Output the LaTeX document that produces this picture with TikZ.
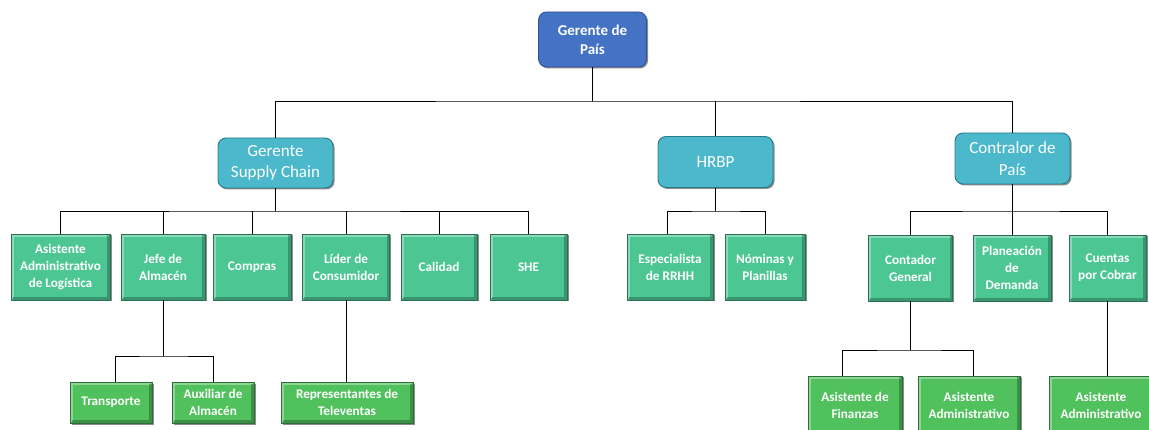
\documentclass[tikz,border=0pt]{standalone}
\usepackage{fontspec}
\setmainfont{Carlito}
\usetikzlibrary{shadows,calc}
\definecolor{topblue}{HTML}{4472C4}
\definecolor{topblueb}{HTML}{2F528F}
\definecolor{teal1}{HTML}{4BB8CC}
\definecolor{teal1b}{HTML}{2B7A88}
\definecolor{mint}{HTML}{4CC794}
\definecolor{mintb}{HTML}{2E6E55}
\definecolor{leaf}{HTML}{50C15C}
\definecolor{leafb}{HTML}{2E6E38}
\tikzset{
  boxbase/.style={text=white, align=center, inner sep=2pt,
    drop shadow={shadow xshift=1.5pt, shadow yshift=-1.5pt, fill=black, opacity=.45}},
  topbox/.style={boxbase, fill=topblue, draw=topblueb, line width=0.8pt, rounded corners=8pt,
    font=\fontsize{15}{19}\selectfont\bfseries},
  midbox/.style={boxbase, fill=teal1, draw=teal1b, line width=0.9pt, rounded corners=8pt,
    font=\fontsize{17}{21.5}\selectfont},
  bevel/.style={path picture={
      \draw[white, opacity=.35, line width=2.5pt]
        ([xshift=1.5pt,yshift=1.5pt]path picture bounding box.south west) |-
        ([xshift=-1.5pt,yshift=-1.5pt]path picture bounding box.north east);
      \draw[black, opacity=.25, line width=2.5pt]
        ([xshift=1.5pt,yshift=1.5pt]path picture bounding box.south west) -|
        ([xshift=-1.5pt,yshift=-1.5pt]path picture bounding box.north east);}},
  mintbox/.style={boxbase, bevel, fill=mint, draw=mintb, line width=0.9pt,
    font=\fontsize{13.2}{17}\selectfont\bfseries},
  leafbox/.style={boxbase, bevel, fill=leaf, draw=leafb, line width=0.9pt,
    font=\fontsize{13.2}{17}\selectfont\bfseries},
  conn/.style={draw=black, line width=0.9pt}
}
\begin{document}
\begin{tikzpicture}[x=1pt,y=1pt]
\useasboundingbox (0,0) rectangle (1149,-430);
% level 0
\node[topbox, minimum width=108, minimum height=55] (gp) at (592.5,-39.5) {Gerente de\\País};
% level 1
\node[midbox, minimum width=115, minimum height=50] (gsc) at (275.5,-163) {Gerente\\Supply Chain};
\node[midbox, minimum width=115, minimum height=51] (hr) at (715.5,-162) {HRBP};
\node[midbox, minimum width=115, minimum height=51] (cp) at (1012.5,-158.5) {Contralor de\\País};
% level 2 (mint)
\node[mintbox, minimum width=99, minimum height=66] (aal) at (60.5,-267) {Asistente\\Administrativo\\de Logística};
\node[mintbox, minimum width=84, minimum height=66] (ja) at (163,-267) {Jefe de\\Almacén};
\node[mintbox, minimum width=78, minimum height=66] (co) at (252,-267) {Compras};
\node[mintbox, minimum width=87, minimum height=66] (lc) at (346,-267) {Líder de\\Consumidor};
\node[mintbox, minimum width=76, minimum height=66] (ca) at (439,-267) {Calidad};
\node[mintbox, minimum width=77, minimum height=66] (she) at (528.5,-267) {SHE};
\node[mintbox, minimum width=86, minimum height=66] (er) at (670,-267) {Especialista\\de RRHH};
\node[mintbox, minimum width=80, minimum height=66] (np) at (765,-267) {Nóminas y\\Planillas};
\node[mintbox, minimum width=84, minimum height=66] (cg) at (910.5,-268) {Contador\\General};
\node[mintbox, minimum width=78, minimum height=66] (pd) at (1012,-268) {Planeación\\de\\Demanda};
\node[mintbox, minimum width=77, minimum height=66] (cc) at (1107.5,-268) {Cuentas\\por Cobrar};
% level 3 (leaf)
\node[leafbox, minimum width=82, minimum height=41] (tr) at (111,-402.5) {Transporte};
\node[leafbox, minimum width=82, minimum height=41] (ax) at (213,-402.5) {Auxiliar de\\Almacén};
\node[leafbox, minimum width=132, minimum height=41] (rt) at (347,-402.5) {Representantes de\\Televentas};
\node[leafbox, minimum width=94, minimum height=58] (af) at (855,-405) {Asistente de\\Finanzas};
\node[leafbox, minimum width=102, minimum height=58] (aa1) at (969,-405) {Asistente\\Administrativo};
\node[leafbox, minimum width=104, minimum height=58] (aa2) at (1101,-405) {Asistente\\Administrativo};
% connectors
\coordinate (b0) at (592.5,-101);
\draw[conn] (gp.south) -- (b0);
\draw[conn] (gsc.north) |- (b0) -| (cp.north);
\draw[conn] (hr.north) -- (hr.north |- b0);
\coordinate (b1) at (275.5,-211);
\draw[conn] (gsc.south) -- (b1);
\draw[conn] (aal.north) |- (b1) -| (she.north);
\draw[conn] (ja.north) -- (ja.north |- b1);
\draw[conn] (co.north) -- (co.north |- b1);
\draw[conn] (lc.north) -- (lc.north |- b1);
\draw[conn] (ca.north) -- (ca.north |- b1);
\coordinate (b2) at (715.5,-211);
\draw[conn] (hr.south) -- (b2);
\draw[conn] ([xshift=-3pt]er.north) |- (b2) -| (np.north);
\coordinate (b3) at (1012.5,-211);
\draw[conn] (cp.south) -- (b3);
\draw[conn] (cg.north) |- (b3) -| (cc.north);
\draw[conn] (pd.north) -- (pd.north |- b3);
\coordinate (b4) at (163,-356);
\draw[conn] (ja.south) -- (b4);
\draw[conn] ([xshift=4pt]tr.north) |- (b4) -| (ax.north);
\draw[conn] (lc.south) -- (rt.north -| lc.south);
\coordinate (b5) at (910.5,-350);
\draw[conn] (cg.south) -- (b5);
\draw[conn] ([xshift=-13pt]af.north) |- (b5) -| ([xshift=4pt]aa1.north);
\draw[conn] (cc.south) -- (aa2.north -| cc.south);
\end{tikzpicture}
\end{document}
